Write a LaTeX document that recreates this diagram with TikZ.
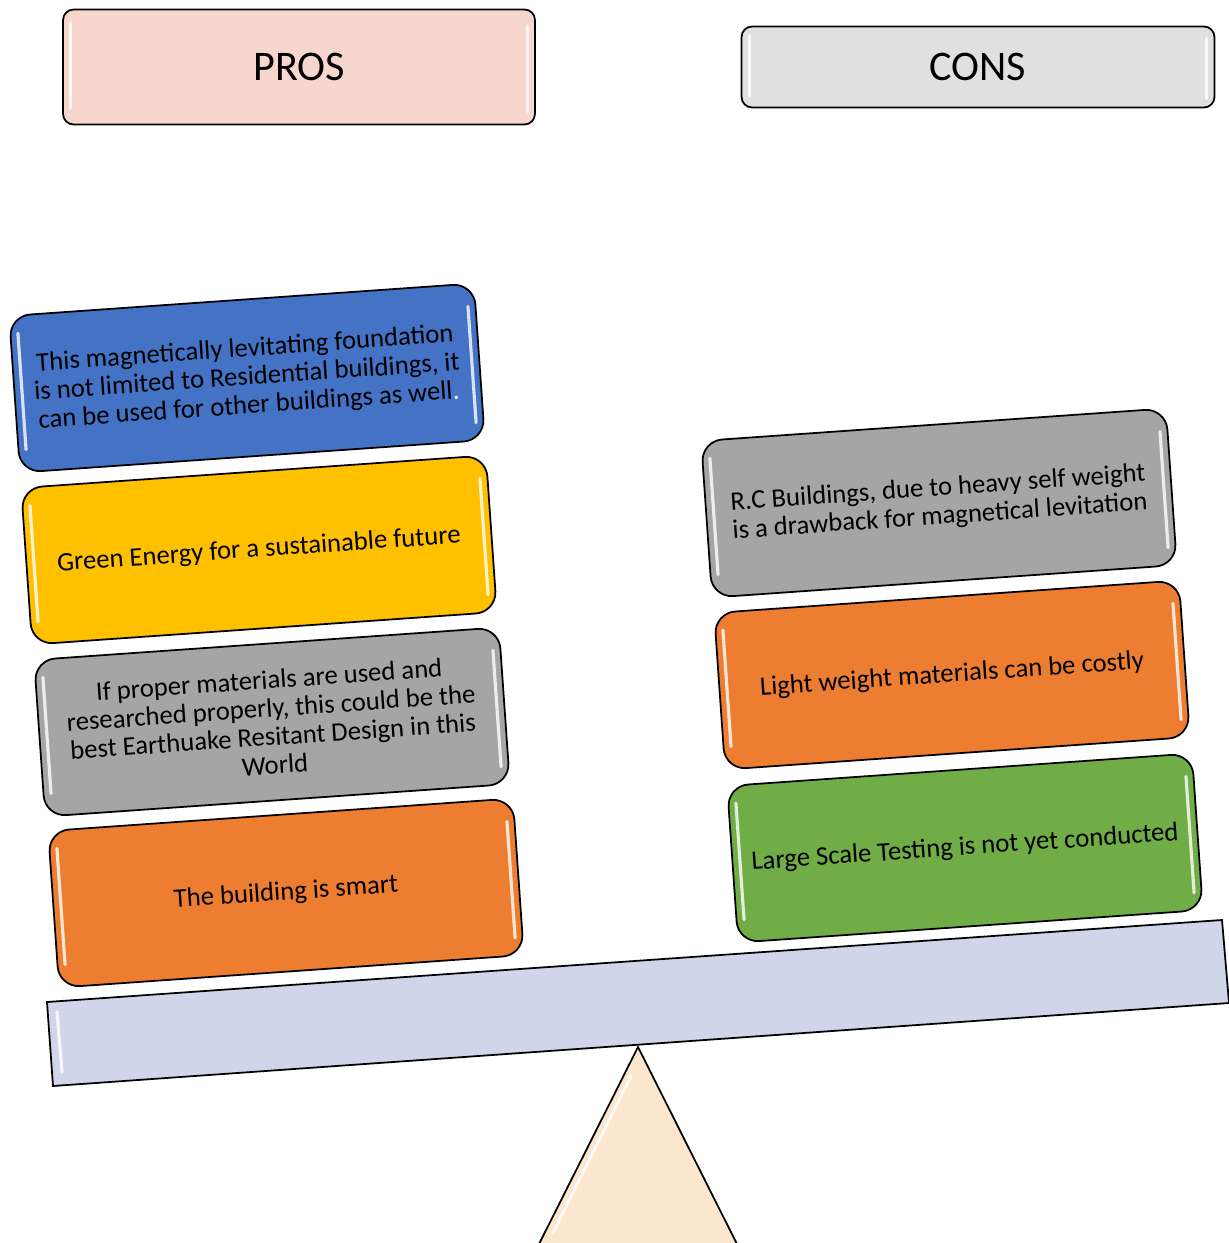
\documentclass[tikz,border=0pt]{standalone}
\usepackage{fontspec}
\setmainfont{Carlito}
\usetikzlibrary{calc}
\definecolor{problue}{RGB}{68,114,196}
\definecolor{proyellow}{RGB}{255,192,0}
\definecolor{cardgray}{RGB}{165,165,165}
\definecolor{cardorange}{RGB}{237,125,49}
\definecolor{cardgreen}{RGB}{112,173,71}
\definecolor{prospink}{RGB}{247,215,205}
\definecolor{consgray}{RGB}{224,224,224}
\definecolor{beamblue}{RGB}{208,214,234}
\definecolor{standpeach}{RGB}{252,230,206}

\begin{document}
\begin{tikzpicture}[x=0.02cm,y=-0.02cm,
  head/.style={draw,line width=1pt,rounded corners=6pt,font=\fontsize{24}{28}\selectfont},
  card/.style={draw,line width=1pt,rounded corners=12pt,minimum width=9.32cm,minimum height=3.14cm,
    align=center,rotate=4,font=\fontsize{15.2}{16.2}\selectfont},
  shine/.style={white,line width=1.8pt,line cap=round,opacity=.8}]
\clip (0,0) rectangle (1229,1243); % page frame

% headings
\node[head,fill=prospink,minimum width=9.44cm,minimum height=2.3cm] (pros) at (299,67) {PROS};
\node[head,fill=consgray,minimum width=9.46cm,minimum height=1.62cm] (cons) at (978,67) {CONS};

% pros stack
\node[card,fill=problue] (proA) at (247,378) {This magnetically levitating foundation\\is not limited to Residential buildings, it\\can be used for other buildings as well{\color{white}.}};
\node[card,fill=proyellow] (proB) at (259,550) {Green Energy for a sustainable future};
\node[card,fill=cardgray] (proC) at (272,722) {If proper materials are used and\\researched properly, this could be the\\best Earthuake Resitant Design in this\\World};
\node[card,fill=cardorange] (proD) at (286,893) {The building is smart};

% cons stack
\node[card,fill=cardgray] (conA) at (939,503) {R.C Buildings, due to heavy self weight\\is a drawback for magnetical levitation};
\node[card,fill=cardorange] (conB) at (952,675) {Light weight materials can be costly};
\node[card,fill=cardgreen] (conC) at (965,848) {Large Scale Testing is not yet conducted};

% shine on the boxes
\foreach \n in {pros,cons,proA,proB,proC,proD,conA,conB,conC} {
  \draw[shine] ($(\n.north west)!.12!(\n.south west)!.018!(\n.north east)$) -- ($(\n.south west)!.15!(\n.north west)!.018!(\n.south east)$);
  \draw[shine] ($(\n.north east)!.15!(\n.south east)!.018!(\n.north west)$) -- ($(\n.south east)!.12!(\n.north east)!.018!(\n.south west)$);
}

% stand
\draw[line width=1pt,fill=standpeach] (638,1047) -- (750,1270) -- (526,1270) -- cycle;
\draw[shine] (631,1076) -- (553,1233); % stand shine

% beam
\draw[line width=1pt,fill=beamblue] (47,1002) -- (1222,920) -- (1229,1003) -- (53,1086) -- cycle;
\draw[shine] (57,1012) -- (62,1072); % beam shine
\end{tikzpicture}
\end{document}
